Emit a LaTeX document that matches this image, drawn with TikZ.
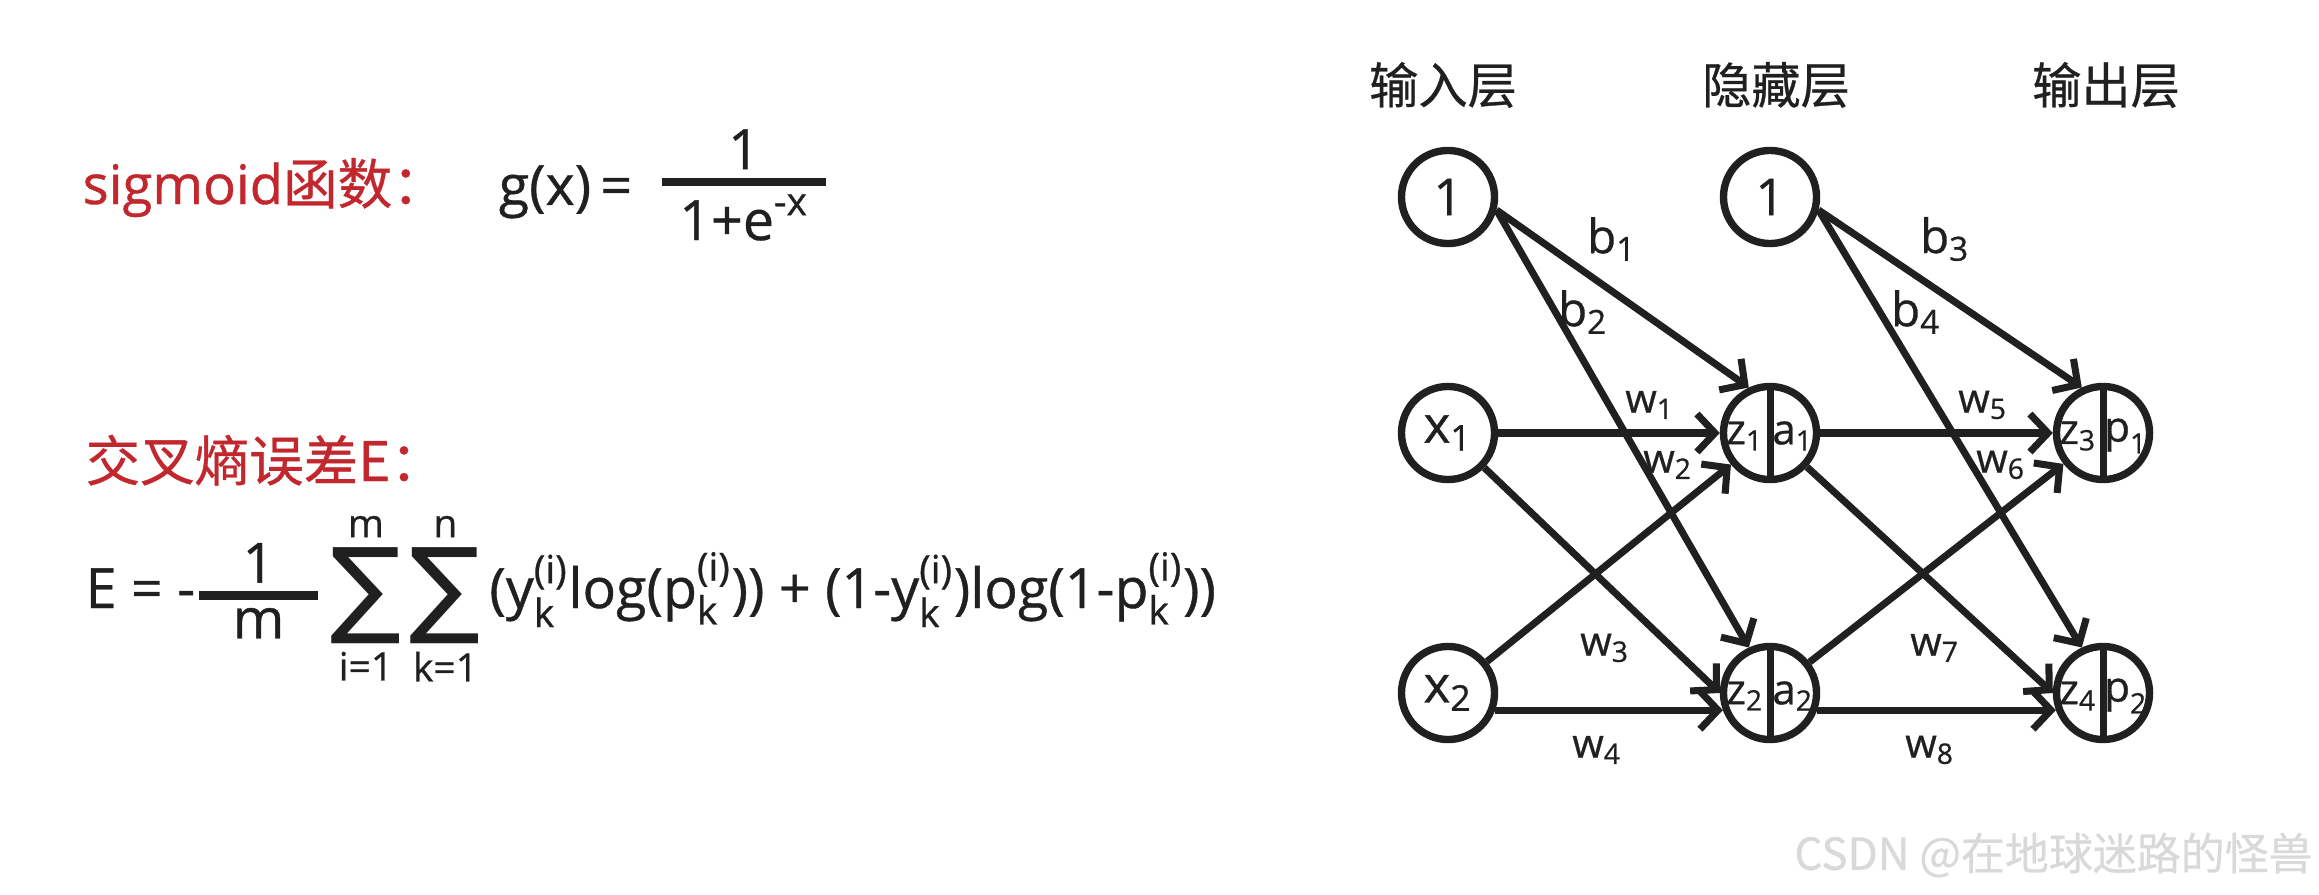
\documentclass[tikz,border=0pt]{standalone}
\usepackage{amsmath}
\usepackage{fontspec}
\setmainfont{Open Sans}[FakeBold=0.7]
\newfontfamily\cjk{Noto Sans CJK SC}[FakeBold=0.6]
\newfontfamily\sumfont{DejaVu Sans}
\usepackage{tikz}
\usetikzlibrary{arrows.meta, positioning, calc}
\definecolor{hdred}{RGB}{193,39,45}
\definecolor{ink}{RGB}{32,32,32}
\tikzset{
  head/.style    = {font=\fontsize{15.5}{18}\selectfont, text=hdred, inner sep=0pt},
  formula/.style = {font=\fontsize{15.8}{18}\selectfont, text=ink, inner sep=0pt},
  layer/.style   = {font=\cjk\fontsize{14}{16}\selectfont, text=ink, inner sep=0pt},
  unit/.style    = {circle, draw=ink, line width=2.1pt, minimum size=0.93cm,
                    inner sep=0pt, font=\fontsize{14.5}{16}\selectfont, text=ink},
  half/.style    = {inner sep=0pt, font=\fontsize{12}{13}\selectfont, text=ink},
  wire/.style    = {-{Straight Barb[length=1.8mm, width=3.8mm]}, line width=2pt, draw=ink},
  blab/.style    = {font=\fontsize{13.5}{15}\selectfont, text=ink, inner sep=0pt},
  wlab/.style    = {font=\fontsize{11.5}{13}\selectfont, text=ink, inner sep=0pt},
}
\newcommand{\nsub}[2]{$\text{#1}_{\text{#2}}$}
\newcommand{\bigsum}[2]{\mathop{\vcenter{\hbox{\sumfont\fontsize{30}{30}\selectfont ∑}}}\limits_{\text{#1}}^{\text{#2}}}
\newcommand{\barfrac}[2]{\genfrac{}{}{2.4pt}{1}{\textstyle #1}{\textstyle #2}}

\begin{document}
\begin{tikzpicture}[x=0.01cm, y=-0.01cm]
  \useasboundingbox (0,0) rectangle (2319,894);
  % formulas
  \node[head, anchor=base west] (sighead) at (82,204) {sigmoid\cjk 函数：};
  \node[formula, anchor=base west] (gx) at (498,205) {g(x)\,=};
  \node[formula] (gfrac) at (744,185)
    {$\barfrac{\text{1}}{\hspace{5pt}\text{1+e}^{\text{-x}}\hspace{5pt}}$};
  \node[head, anchor=base west] (cehead) at (85,481) {\cjk 交叉熵误差E：};
  \node[formula, anchor=base west] (ce) at (85,608)
    {$\displaystyle\text{E = -}\barfrac{\text{1}}{\hspace{0.6em}\text{m}\hspace{0.6em}}
      \bigsum{i=1}{m}\bigsum{k=1}{n}
      \text{(y}^{\text{(i)}}_{\text{k}}\text{log(p}^{\text{(i)}}_{\text{k}}\text{)) + (1-y}^{\text{(i)}}_{\text{k}}
      \text{)log(1-p}^{\text{(i)}}_{\text{k}}\text{))}$};

  % layer titles
  \foreach \nm/\x/\txt in {tin/1443/输入层, thid/1776/隐藏层, tout/2106/输出层}
    \node[layer] (\nm) at (\x,85) {\txt};

  % units
  \node[unit] (in0) at (1448,197) {1};
  \node[unit] (in1) at (1448,433) {\nsub{x}{1}};
  \node[unit] (in2) at (1448,693) {\nsub{x}{2}};
  \node[unit] (hb) at (1770,197) {1};
  \foreach \n/\x/\y/\l/\r in {h1/1770/433/\nsub{z}{1}/\nsub{a}{1}, h2/1770/693/\nsub{z}{2}/\nsub{a}{2},
                              o1/2103/433/\nsub{z}{3}/\nsub{p}{1}, o2/2103/693/\nsub{z}{4}/\nsub{p}{2}} {
    \node[unit] (\n) at (\x,\y) {};
    \draw[draw=ink, line width=2pt] (\n.north) -- (\n.south);
    \node[half] (\n-l) at ($(\n)+(-25,3)$) {\l};
    \node[half] (\n-r) at ($(\n)+(23,3)$) {\r};
  }

  % connections
  \foreach \a/\b in {in0.-15/h1.115, in0.-15/h2.115, in1/h1, in1/h2.west, in2/h1, in2.-20/h2.200,
                     hb.-15/o1.115, hb.-15/o2.115, h1/o1, h1/o2.west, h2/o1, h2.-20/o2.200}
    \draw[wire] (\a) -- (\b);

  % weights
  \foreach \x/\y/\s/\k in {1612/239/b/1, 1583/312/b/2, 1945/239/b/3, 1916/312/b/4}
    \node[blab] (lb\k) at (\x,\y) {\nsub{\s}{\k}};
  \foreach \x/\y/\k in {1650/405/1, 1668/465/2, 1605/648/3, 1597/750/4,
                        1983/405/5, 2001/465/6, 1935/648/7, 1930/750/8}
    \node[wlab] (lw\k) at (\x,\y) {\nsub{w}{\k}};

  \node[anchor=west, text=gray!30, font=\cjk\fontsize{12.5}{14}\selectfont] (mark) at (1782,855)
    {CSDN @在地球迷路的怪兽};
\end{tikzpicture}
\end{document}
